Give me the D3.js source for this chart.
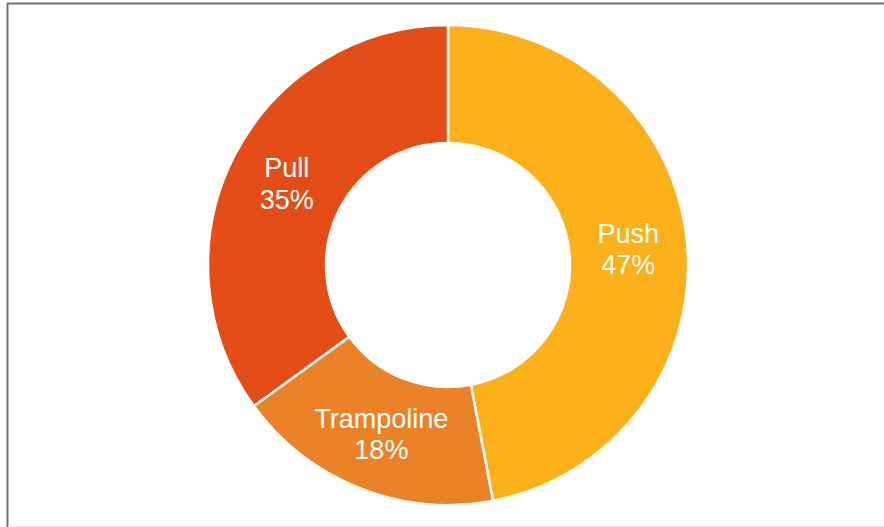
<!DOCTYPE html>
<html><head><meta charset="utf-8">
<script src="https://cdn.jsdelivr.net/npm/d3@7"></script>
<style>html,body{margin:0;padding:0;background:#fff;}svg{display:block;}</style>
</head><body>
<svg id="chart" width="884" height="527"></svg>
<script>
const categories = ["Push", "Trampoline", "Pull"];
const values = [47, 18, 35];
const colors = ["#FCB01A", "#EB8227", "#E44E16"];

const W = 884, H = 527;
const svg = d3.select("#chart");
// frame
svg.append("line").attr("x1",7.5).attr("y1",3.5).attr("x2",884).attr("y2",3.5).attr("stroke","#7b7065").attr("stroke-width",2);
svg.append("line").attr("x1",7.5).attr("y1",3).attr("x2",7.5).attr("y2",527).attr("stroke","#7b7065").attr("stroke-width",2);
svg.append("line").attr("x1",8).attr("y1",526.5).attr("x2",884).attr("y2",526.5).attr("stroke","#e6e6e6").attr("stroke-width",1);

const cx = 448, cy = 265, R = 240, r = 122;
const data = categories.map((c,i)=>({cat:c, val:values[i], color:colors[i]}));
const pie = d3.pie().value(d=>d.val).sort(null);
const arc = d3.arc().innerRadius(r).outerRadius(R);
const g = svg.append("g").attr("transform",`translate(${cx},${cy})`);
const arcs = pie(data);
g.selectAll("path").data(arcs).join("path")
  .attr("d",arc).attr("fill",d=>d.data.color)
  .attr("stroke","#fff").attr("stroke-width",2.5);

const total = d3.sum(values);
const lbl = g.selectAll("text").data(arcs).join("text")
  .attr("transform",d=>`translate(${arc.centroid(d)})`)
  .attr("text-anchor","middle")
  .attr("fill","#fff")
  .style("font-family","'Liberation Sans', Arial, sans-serif")
  .style("font-size","27px");
lbl.append("tspan").attr("x",0).attr("dy","-0.2em").text(d=>d.data.cat);
lbl.append("tspan").attr("x",0).attr("dy","1.16em").text(d=>Math.round(d.data.val/total*100)+"%");
</script>
</body></html>
